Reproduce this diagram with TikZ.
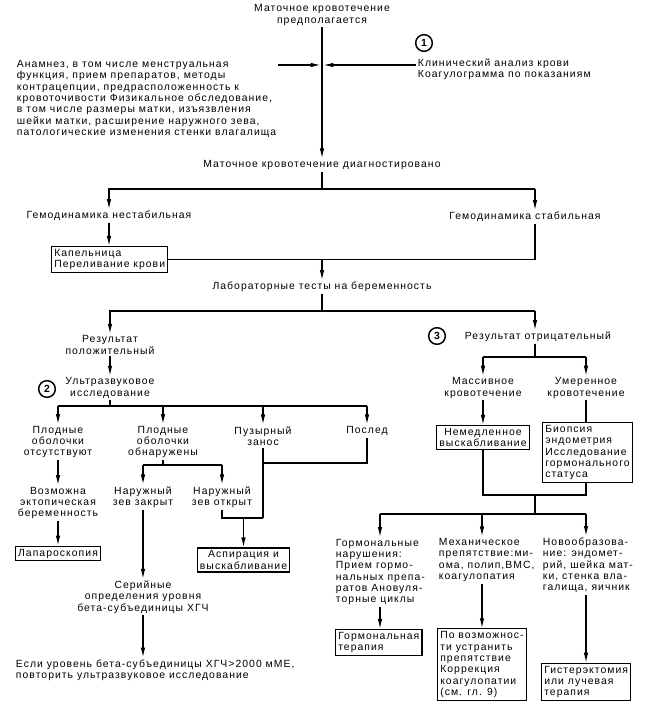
\documentclass[tikz,border=0pt]{standalone}
\usepackage{fontspec}
\setmainfont{Liberation Sans}[LetterSpace=10]
\usetikzlibrary{arrows.meta}
\newcommand{\chartfont}{\fontsize{7.8}{8.5}\selectfont}
\tikzset{every picture/.style={line width=0.9pt}}
\tikzset{
  txt/.style={inner sep=1pt, align=center, font=\chartfont},
  ltxt/.style={inner sep=1pt, align=left, font=\chartfont},
  box/.style={draw, inner sep=2pt, align=left, font=\chartfont},
  num/.style={circle, draw, inner sep=0pt, minimum size=12.5pt, line width=1.1pt, font=\chartfont\bfseries},
  arr/.style={-{Latex[length=7.5pt,width=3.4pt]}}
}

\begin{document}
\begin{tikzpicture}[x=0.75pt,y=0.75pt,yscale=-1,xscale=1]
\useasboundingbox (0,0) rectangle (644,711);

% Text Node
\node [txt] (top) at (322,15) {Маточное кровотечение\\предполагается};
% Text Node
\node [ltxt, anchor=west] (hist) at (15,99) {Анамнез, в том числе менструальная\\функция, прием препаратов, методы\\контрацепции, предрасположенность к\\кровоточивости Физикальное обследование,\\в том числе размеры матки, изъязвления\\шейки матки, расширение наружного зева,\\патологические изменения стенки влагалища};
% Text Node
\node [ltxt, anchor=west] (labs) at (416,69) {Клинический анализ крови\\Коагулограмма по показаниям};
\node [num] (c1) at (424,43) {1};
% Text Node
\node [txt] (diag) at (322,165) {Маточное кровотечение диагностировано};
% Text Node
\node [txt] (unst) at (109,216) {Гемодинамика нестабильная};
% Text Node
\node [txt] (stab) at (525,217) {Гемодинамика стабильная};
% Box
\node [box, anchor=west] (drip) at (51,259.5) {Капельница\\Переливание крови};
% Text Node
\node [txt] (preg) at (322,287) {Лабораторные тесты на беременность};
% Text Node
\node [txt] (pos) at (110,345) {Результат\\положительный};
% Text Node
\node [txt] (us) at (110,388) {Ультразвуковое\\исследование};
\node [num] (c2) at (47,389) {2};
% Text Node
\node [txt] (neg) at (538,337) {Результат отрицательный};
\node [num] (c3) at (437,336) {3};
% Text Node
\node [txt] (noemb) at (58,442) {Плодные\\оболочки\\отсутствуют};
% Text Node
\node [txt] (emb) at (163,442) {Плодные\\оболочки\\обнаружены};
% Text Node
\node [txt] (mole) at (263,436) {Пузырный\\занос};
% Text Node
\node [txt] (plac) at (367,431) {Послед};
% Text Node
\node [txt] (ect) at (58,503) {Возможна\\эктопическая\\беременность};
% Box
\node [box] (lap) at (58,553.5) {Лапароскопия};
% Text Node
\node [txt] (closed) at (143,497) {Наружный\\зев закрыт};
% Text Node
\node [txt] (open) at (222,497) {Наружный\\зев открыт};
% Box
\node [box, align=center] (asp) at (243.5,560) {Аспирация и\\выскабливание};
% Text Node
\node [txt] (serial) at (143,597) {Серийные\\определения уровня\\бета-субъединицы ХГЧ};
% Text Node
\node [ltxt, anchor=west] (final) at (14,670) {Если уровень бета-субъединицы ХГЧ>2000 мМЕ,\\повторить ультразвуковое исследование};
% Text Node
\node [txt] (mass) at (483,388) {Массивное\\кровотечение};
% Text Node
\node [txt] (mod) at (586,388) {Умеренное\\кровотечение};
% Box
\node [box, align=center] (curet) at (483,437.5) {Немедленное\\выскабливание};
% Box
\node [box, anchor=west] (biop) at (542,452.5) {Биопсия\\эндометрия\\Исследование\\гормонального\\статуса};
% Text Node
\node [ltxt, anchor=west] (horm) at (334,572) {Гормональные\\нарушения:\\Прием гормо-\\нальных препа-\\ратов Ановуля-\\торные циклы};
% Box
\node [box, anchor=west] (hormtx) at (335,642.5) {Гормональная\\терапия};
% Text Node
\node [ltxt, anchor=west] (mech) at (437,560) {Механическое\\препятствие:ми-\\ома, полип,ВМС,\\коагулопатия};
% Box
\node [box, anchor=west] (fix) at (437,664.5) {По возможнос-\\ти устранить\\препятствие\\Коррекция\\коагулопатии\\(см. гл. 9)};
% Text Node
\node [ltxt, anchor=west] (neo) at (541,565.5) {Новообразова-\\ние: эндомет-\\рий, шейка мат-\\ки, стенка вла-\\галища, яичник};
% Box
\node [box, anchor=west] (hyst) at (541,682) {Гистерэктомия\\или лучевая\\терапия};

% junctions
\coordinate (m1) at (322,65);
\coordinate (s1) at (322,189);
\coordinate (b1) at (535,189);
\coordinate (s2) at (322,311);
\coordinate (b2) at (535,311);
\coordinate (s3) at (110,406);
\coordinate (s4) at (163,465);
\coordinate (j1) at (263,463);
\coordinate (j2) at (263,518);
\coordinate (s5) at (535,357);
\coordinate (j3) at (535,495);
\coordinate (s6) at (535,514);
\coordinate (s6a) at (380,514);
\coordinate (s6b) at (482,514);
\coordinate (s6c) at (586,514);

%Straight Lines
\draw [arr] (top.south) -- (diag.north);
\draw [arr] (hist.east |- m1) -- ([xshift=-1pt]m1);
\draw [arr] (labs.west |- m1) -- ([xshift=1pt]m1);
\draw (diag.south) -- (s1);
\draw [arr] (s1) -| (unst.north);
\draw (s1) -- (b1);
\draw [arr] (b1) -- (b1 |- stab.north);
\draw [arr] (unst.south) -- (unst.south |- drip.north);
\draw (b1 |- stab.south) |- (drip.east);
\draw [arr] (preg.north |- drip.east) -- (preg.north);
\draw (preg.south) -- (s2);
\draw [arr] (s2) -| (pos.north);
\draw (s2) -- (b2);
\draw [arr] (b2) -- (b2 |- neg.north);
\draw [arr] (pos.south) -- (us.north);
\draw (us.south) -- (s3);
\draw (noemb.north |- s3) -- (plac.north |- s3);
\foreach \n in {noemb,emb,mole,plac}
  \draw [arr] (\n.north |- s3) -- (\n.north);
\draw [arr] (noemb.south) -- (ect.north);
\draw [arr] (ect.south) -- (lap.north);
\draw (emb.south) -- (s4);
\draw (closed.north |- s4) -- (open.north |- s4);
\draw [arr] (closed.north |- s4) -- (closed.north);
\draw [arr] (open.north |- s4) -- (open.north);
\draw (plac.south) |- (j1);
\draw (mole.south) -- (j2);
\draw (open.south) |- (j2);
\draw [arr] (asp.north |- j2) -- (asp.north);
\draw [arr] (closed.south) -- (serial.north);
\draw [arr] (serial.south) -- (serial.south |- final.north);
\draw (b2 |- neg.south) -- (s5);
\draw (mass.north |- s5) -- (mod.north |- s5);
\draw [arr] (mass.north |- s5) -- (mass.north);
\draw [arr] (mod.north |- s5) -- (mod.north);
\draw [arr] (mass.south) -- (curet.north);
\draw (mod.south) -- (mod.south |- biop.north);
\draw (curet.south) |- (j3);
\draw (mod.south |- biop.south) |- (j3);
\draw (j3) -- (s6);
\draw (s6a) -- (s6c);
\foreach \p/\t in {s6a/horm,s6b/mech,s6c/neo}
  \draw [arr] (\p) -- (\p |- \t.north);
\draw [arr] (s6a |- horm.south) -- (s6a |- hormtx.north);
\draw [arr] (s6b |- mech.south) -- (s6b |- fix.north);
\draw [arr] (s6c |- neo.south) -- (s6c |- hyst.north);

\end{tikzpicture}
\end{document}
